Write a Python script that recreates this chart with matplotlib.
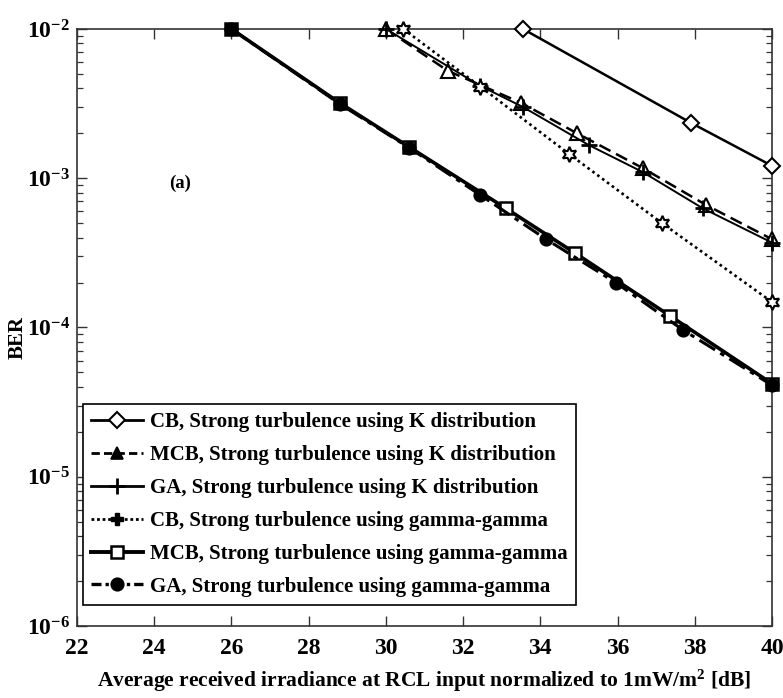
import matplotlib
matplotlib.use("Agg")
import matplotlib.pyplot as plt
from matplotlib.lines import Line2D
from matplotlib.ticker import FixedLocator, LogLocator, NullFormatter, NullLocator

plt.rcParams["font.family"] = ["Liberation Serif", "DejaVu Serif"]
plt.rcParams["font.weight"] = "bold"
plt.rcParams["mathtext.fontset"] = "custom"
plt.rcParams["mathtext.rm"] = "Liberation Serif:bold"
plt.rcParams["mathtext.it"] = "Liberation Serif:bold"
plt.rcParams["mathtext.bf"] = "Liberation Serif:bold"
plt.rcParams["mathtext.default"] = "rm"

# BER curves versus average received irradiance (dB)
cb_k_x = [33.55, 37.9, 40]
cb_k_y = [1.0e-2, 2.35e-3, 1.21e-3]

mcb_k_x = [30, 31.6, 33.5, 34.95, 36.65, 38.3, 40]
mcb_k_y = [1.0e-2, 5.25e-3, 3.2e-3, 2.0e-3, 1.17e-3, 6.6e-4, 3.9e-4]

ga_k_x = [30, 32.45, 33.55, 35.25, 36.65, 38.2, 40]
ga_k_y = [1.0e-2, 4.15e-3, 3.0e-3, 1.67e-3, 1.1e-3, 6.3e-4, 3.7e-4]

cb_gg_x = [30.45, 32.45, 34.75, 37.15, 40]
cb_gg_y = [1.0e-2, 4.1e-3, 1.45e-3, 5.0e-4, 1.48e-4]

mcb_gg_x = [26, 28.8, 30.6, 33.1, 34.9, 37.35, 40]
mcb_gg_y = [1.0e-2, 3.2e-3, 1.62e-3, 6.3e-4, 3.15e-4, 1.2e-4, 4.2e-5]

ga_gg_x = [26, 28.8, 30.6, 32.45, 34.15, 35.95, 37.7, 40]
ga_gg_y = [1.0e-2, 3.15e-3, 1.6e-3, 7.7e-4, 3.9e-4, 2.0e-4, 9.6e-5, 4.1e-5]

labels = [
    "CB, Strong turbulence using K distribution",
    "MCB, Strong turbulence using K distribution",
    "GA, Strong turbulence using K distribution",
    "CB, Strong turbulence using gamma-gamma",
    "MCB, Strong turbulence using gamma-gamma",
    "GA, Strong turbulence using gamma-gamma",
]

x_ticks = [22, 24, 26, 28, 30, 32, 34, 36, 38, 40]
y_ticks = [1e-6, 1e-5, 1e-4, 1e-3, 1e-2]
y_tick_labels = ["$10^{-6}$", "$10^{-5}$", "$10^{-4}$", "$10^{-3}$", "$10^{-2}$"]

fig = plt.figure(figsize=(7.83, 6.98), dpi=100)
ax = fig.add_axes([0.0983, 0.1032, 0.8877, 0.8553])

star6 = (6, 1, 0)

series = [
    (cb_k_x, cb_k_y, dict(ls="-", lw=1.8, marker="D", ms=8, mfc="white", mew=1.5)),
    (mcb_k_x, mcb_k_y, dict(ls=(0, (5, 2.5)), lw=1.8, marker="^", ms=10, mfc="white", mew=1.5)),
    (ga_k_x, ga_k_y, dict(ls="-", lw=1.4, marker="+", ms=11, mew=2.0)),
    (cb_gg_x, cb_gg_y, dict(ls=(0, (1, 1.3)), lw=1.9, marker=star6, ms=11, mfc="white", mew=1.5)),
    (mcb_gg_x, mcb_gg_y, dict(ls="-", lw=2.6, marker="s", ms=9, mfc="white", mew=1.8)),
    (ga_gg_x, ga_gg_y, dict(ls=(0, (6, 2, 1.5, 2)), lw=2.2, marker="o", ms=9, mfc="black", mew=1.2)),
]

for (x, y, style), lab in zip(series, labels):
    ax.plot(x, y, color="black", mec="black", label=lab, clip_on=False, zorder=3, **style)

# legend handles use filled glyphs for the K triangle and gamma-gamma CB star
legend_styles = [
    dict(ls="-", lw=2.0, marker="D", ms=8, mfc="white", mew=1.5),
    dict(ls=(0, (3, 1.5)), lw=2.0, marker="^", ms=9, mfc="black", mew=1.2),
    dict(ls="-", lw=2.0, marker="+", ms=11, mew=2.0),
    dict(ls=(0, (1, 1)), lw=2.0, marker="P", ms=8, mfc="black", mew=1.0),
    dict(ls="-", lw=2.8, marker="s", ms=8, mfc="white", mew=1.8),
    dict(ls=(0, (3, 1.2, 1, 1.2)), lw=2.4, marker="o", ms=9, mfc="black", mew=1.2),
]
handles = [Line2D([], [], color="black", mec="black", **st) for st in legend_styles]

ax.set_yscale("log")
ax.set_xlim(22, 40)
ax.set_ylim(1e-6, 1e-2)

ax.xaxis.set_major_locator(FixedLocator(x_ticks))
ax.xaxis.set_minor_locator(NullLocator())
ax.set_xticklabels([str(t) for t in x_ticks])
ax.yaxis.set_major_locator(FixedLocator(y_ticks))
ax.yaxis.set_minor_locator(LogLocator(base=10, subs=range(2, 10)))
ax.yaxis.set_minor_formatter(NullFormatter())
ax.set_yticklabels(y_tick_labels)

ax.tick_params(axis="both", which="both", direction="in", top=True, right=True,
               color="#333333")
ax.tick_params(axis="both", which="major", length=7, width=1.0, labelsize=17)
ax.tick_params(axis="x", which="major", pad=9)
ax.tick_params(axis="y", which="major", pad=5)
ax.tick_params(axis="y", which="minor", length=4, width=0.9)
for lab in ax.get_xticklabels() + ax.get_yticklabels():
    lab.set_fontweight("bold")

for sp in ax.spines.values():
    sp.set_color("#333333")
    sp.set_linewidth(1.2)

ax.set_xlabel("Average received irradiance at RCL input normalized to 1mW/m$^{2}$ [dB]",
              fontsize=15.5, fontweight="bold", labelpad=6)
fig.text(18 / 783, 1 - 338 / 698, "BER", rotation=90, fontsize=15,
         fontweight="bold", ha="center", va="center")

ax.text(0.148, 0.742, "(a)", transform=ax.transAxes, fontsize=13.5,
        fontweight="bold", ha="center", va="center")

leg = ax.legend(handles, labels, loc="lower left", bbox_to_anchor=(0.0086, 0.035),
                borderaxespad=0, fancybox=False, framealpha=1, edgecolor="black",
                prop=dict(family="Liberation Serif", weight="bold", size=15),
                handlelength=2.5, handletextpad=0.3, labelspacing=0.62,
                borderpad=0.4)
leg.get_frame().set_linewidth(1.2)

fig.savefig("out.png", dpi=100)
